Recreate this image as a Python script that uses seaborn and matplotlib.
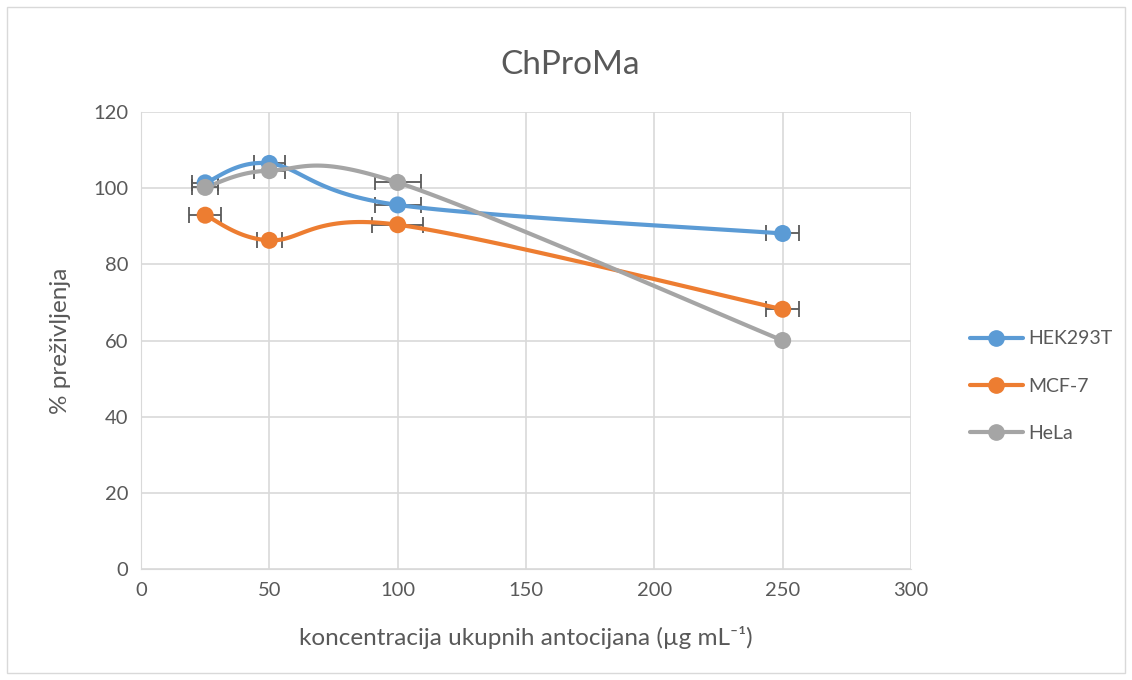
import numpy as np
import pandas as pd
import matplotlib.pyplot as plt
import seaborn as sns

# data
conc = [25, 50, 100, 250]
hek293t = [101.4, 106.5, 95.6, 88.1]
mcf7 = [92.9, 86.3, 90.4, 68.2]
hela = [100.2, 104.6, 101.5, 60.0]
hek_err = [5, 6, 9, 6.5]
mcf_err = [6.3, 5, 10, 6.5]
hela_err = [5, 6, 9, 0]

series = ['HEK293T', 'MCF-7', 'HeLa']
values = [hek293t, mcf7, hela]
errors = [hek_err, mcf_err, hela_err]
colors = ['#5B9BD5', '#ED7D31', '#A5A5A5']


def smooth(x, y, n=40):
    # Excel style smoothed line (cardinal bezier through the points)
    p = np.column_stack([x, y]).astype(float)
    out = []
    for i in range(len(p) - 1):
        p0 = p[i - 1] if i > 0 else p[i]
        p3 = p[i + 2] if i + 2 < len(p) else p[i + 1]
        p1, p2 = p[i], p[i + 1]
        c1 = p1 + (p2 - p0) / 6
        c2 = p2 - (p3 - p1) / 6
        t = np.linspace(0, 1, n)[:, None]
        seg = ((1 - t) ** 3) * p1 + 3 * ((1 - t) ** 2) * t * c1 + 3 * (1 - t) * t ** 2 * c2 + t ** 3 * p2
        out.append(seg if i == 0 else seg[1:])
    return np.vstack(out)


sns.set_style('white')
plt.rcParams['font.family'] = ['Lato', 'DejaVu Sans']
text_col = '#595959'

fig = plt.figure(figsize=(11.32, 6.8), dpi=100)
ax = fig.add_axes([141 / 1132, 1 - 569 / 680, 770 / 1132, 457 / 680])

curves = []
for name, v in zip(series, values):
    s = smooth(conc, v)
    curves.append(pd.DataFrame({'x': s[:, 0], 'y': s[:, 1], 'serija': name}))
curve_df = pd.concat(curves)
points_df = pd.DataFrame({
    'x': conc * 3,
    'y': hek293t + mcf7 + hela,
    'serija': np.repeat(series, len(conc)),
})

# error bars drawn first so markers sit on top
for v, e in zip(values, errors):
    ax.errorbar(conc, v, xerr=e, fmt='none', ecolor='#595959', elinewidth=1.3,
                capsize=6, capthick=1.3, zorder=2)

sns.lineplot(data=curve_df, x='x', y='y', hue='serija', palette=colors,
             linewidth=3, sort=False, estimator=None, ax=ax, legend=False, zorder=3)
sns.scatterplot(data=points_df, x='x', y='y', hue='serija', palette=colors,
                s=150, edgecolor='none', ax=ax, legend=False, zorder=4)

ax.set_xlim(0, 300)
ax.set_ylim(0, 120)
ax.set_xticks(range(0, 301, 50))
ax.set_yticks(range(0, 121, 20))
ax.grid(True, color='#D9D9D9', linewidth=1.2)
ax.set_axisbelow(True)
for side in ['top', 'right']:
    ax.spines[side].set_visible(False)
ax.spines['left'].set_color('#D9D9D9')
ax.spines['bottom'].set_color('#D9D9D9')
ax.tick_params(length=0, labelsize=14.5, colors=text_col, pad=9)

ax.set_xlabel('koncentracija ukupnih antocijana (µg mL⁻¹)', fontsize=17.5, color=text_col, labelpad=20)
ax.set_ylabel('% preživljenja', fontsize=17.5, color=text_col, labelpad=16)
fig.text(570 / 1132, 1 - 65 / 680, 'ChProMa', fontsize=24, color=text_col, ha='center', va='center')

handles = [plt.Line2D([0], [0], color=c, linewidth=3, marker='o', markersize=11) for c in colors]
leg = fig.legend(handles, series, loc='center left', bbox_to_anchor=(970 / 1132, 1 - 386 / 680),
                 frameon=False, fontsize=14, handlelength=2.7, labelspacing=1.55, handletextpad=0.3,
                 borderpad=0, borderaxespad=0)
for t in leg.get_texts():
    t.set_color(text_col)

# thin border around the whole chart area
fig.patches.append(plt.Rectangle((0.006, 0.01), 0.988, 0.98, transform=fig.transFigure,
                                 fill=False, edgecolor='#D9D9D9', linewidth=1))

fig.savefig('out.png', dpi=100)
